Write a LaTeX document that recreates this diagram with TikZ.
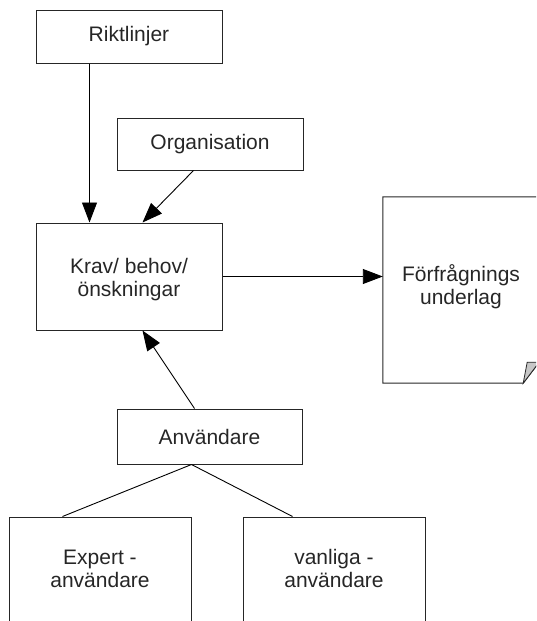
\documentclass[tikz,border=0pt]{standalone}
\usepackage{fontspec}
\setmainfont{Liberation Sans}
\usetikzlibrary{arrows.meta}
\begin{document}
\begin{tikzpicture}[x=1pt,y=-1pt,
  txt/.style={inner sep=0pt,align=center,font=\fontsize{21}{23}\selectfont,text=black!85},
  box/.style={txt,draw=black!85,line width=1pt,rectangle},
  arr/.style={line width=0.9pt,-{Triangle[length=20pt,width=15pt]}},
  ln/.style={line width=0.9pt}]
\useasboundingbox (0,0) rectangle (536,621);
\begin{scope}
\clip (0,0) rectangle (536,621);
\node[box,minimum width=186pt,minimum height=53pt] (rik) at (129,36.5) {Riktlinjer};
\node[box,minimum width=186pt,minimum height=52pt] (org) at (210,144) {Organisation};
\node[box,minimum width=186pt,minimum height=107pt] (krav) at (129,276.5) {};
\node[txt] (kravt) at ([yshift=-3pt]krav.center) {Krav/ behov/\\önskningar};
\node[txt,minimum width=156pt,minimum height=186pt] (doc) at (461,290) {};
\node[txt] (doct) at ([yshift=3pt]doc.center) {Förfrågnings\\underlag};
\draw[line width=1pt,black!85] (doc.south west) -- (doc.north west) -- (doc.north east)
  -- ([yshift=21pt]doc.south east) -- ([xshift=-16pt]doc.south east) -- cycle;
\filldraw[fill=black!22,draw=black!85,line width=0.8pt] ([xshift=-16pt]doc.south east)
  -- ([xshift=-12pt,yshift=21pt]doc.south east) -- ([yshift=21pt]doc.south east) -- cycle;
\node[box,minimum width=185pt,minimum height=55pt] (anv) at (209.5,436.5) {Användare};
\node[box,minimum width=182pt,minimum height=140pt] (exp) at (100,587) {Expert -\\användare\\[14pt]};
\node[box,minimum width=182pt,minimum height=140pt] (van) at (334,587) {vanliga -\\användare\\[14pt]};
\draw[arr] ([xshift=54pt]rik.south west) -- ([xshift=54pt]krav.north west);
\draw[arr] ([xshift=77pt]org.south west) -- ([xshift=107pt]krav.north west);
\draw[arr] (krav.east) -- (krav.east -| doc.west);
\draw[arr] ([xshift=78pt]anv.north west) -- ([xshift=107pt]krav.south west);
\draw[ln] ([xshift=75pt]anv.south west) -- ([xshift=54pt]exp.north west);
\draw[ln] ([xshift=75pt]anv.south west) -- ([xshift=50pt]van.north west);
\end{scope}
\end{tikzpicture}
\end{document}
